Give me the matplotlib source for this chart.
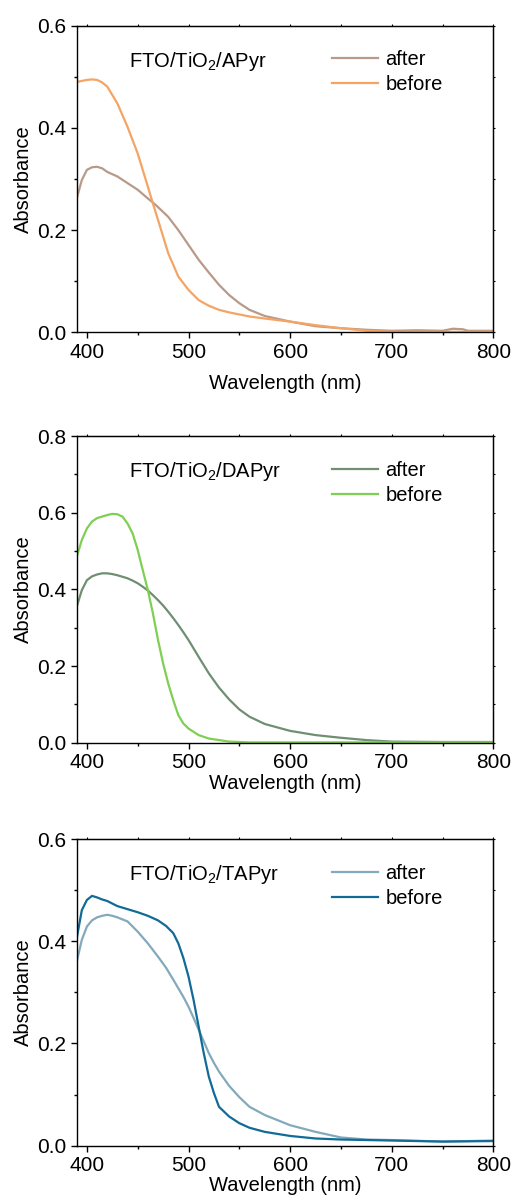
import numpy as np
import matplotlib
matplotlib.use("Agg")
from matplotlib import pyplot as plt

plt.rcParams['font.family'] = ['Liberation Sans', 'DejaVu Sans']
plt.rcParams['mathtext.fontset'] = 'custom'
plt.rcParams['mathtext.rm'] = 'Liberation Sans'
plt.rcParams['mathtext.it'] = 'Liberation Sans:italic'

# panel 1: APyr
wl_apyr = [390, 395, 400, 405, 410, 415, 420, 430, 440, 450, 460, 465, 470, 480, 490, 500,
           510, 520, 530, 540, 550, 560, 575, 600, 625, 650, 675, 700, 725, 750, 760, 770, 775, 800]
apyr_before = [.490, .492, .494, .495, .494, .489, .481, .448, .402, .350, .285, .252, .220, .155, .109, .083,
               .063, .052, .044, .039, .035, .031, .027, .021, .014, .008, .003, .001, .001, .001, .001, .001, .001, .001]
apyr_after = [.262, .298, .318, .323, .324, .321, .314, .305, .292, .279, .262, .254, .245, .226, .200, .171,
              .142, .117, .093, .073, .057, .044, .032, .021, .012, .008, .005, .003, .004, .003, .007, .006, .003, .003]

# panel 2: DAPyr
wl_dapyr = [390, 395, 400, 405, 410, 415, 420, 425, 430, 435, 440, 445, 450, 455, 460, 465, 470, 475, 480,
            485, 490, 495, 500, 510, 520, 530, 540, 550, 560, 575, 600, 625, 650, 675, 700, 750, 800]
dapyr_before = [.485, .529, .559, .577, .586, .590, .594, .597, .596, .590, .572, .546, .503, .450, .398, .337,
                .268, .207, .155, .111, .072, .050, .037, .020, .011, .007, .003, .002, .001, .001, .001, .001,
                .001, .001, .001, .001, .001]
dapyr_after = [.355, .398, .424, .434, .439, .442, .442, .440, .437, .433, .429, .423, .416, .407, .397, .385,
               .372, .358, .342, .325, .307, .288, .268, .224, .181, .144, .113, .087, .068, .049, .031, .020,
               .013, .007, .003, .002, .002]

# panel 3: TAPyr
wl_tapyr = [390, 395, 400, 405, 410, 415, 420, 425, 430, 440, 450, 460, 470, 478, 485, 490, 495, 500, 505,
            510, 515, 520, 525, 530, 540, 550, 560, 575, 600, 625, 650, 675, 700, 750, 800]
tapyr_before = [.406, .461, .481, .489, .486, .482, .479, .474, .469, .463, .457, .450, .441, .430, .416, .396,
                .367, .331, .285, .233, .181, .135, .103, .076, .057, .044, .035, .027, .019, .014, .012, .011,
                .010, .008, .009]
tapyr_after = [.360, .403, .429, .441, .447, .450, .452, .450, .447, .439, .419, .396, .370, .348, .325, .308,
               .291, .272, .250, .227, .204, .181, .162, .145, .117, .095, .076, .060, .040, .027, .016, .012,
               .011, .008, .010]

panels = [
    ("FTO/TiO$_2$/APyr", wl_apyr, apyr_after, apyr_before, "#b89a89", "#f5a463", 0.6),
    ("FTO/TiO$_2$/DAPyr", wl_dapyr, dapyr_after, dapyr_before, "#6f8f72", "#7fcf52", 0.8),
    ("FTO/TiO$_2$/TAPyr", wl_tapyr, tapyr_after, tapyr_before, "#82a9bc", "#116b96", 0.6),
]
# axes boxes in figure fractions
boxes = [(0.149, 0.7226, 0.809, 0.2559),
         (0.149, 0.3800, 0.809, 0.2560),
         (0.149, 0.0437, 0.809, 0.2558)]
xlabel_pads = [9, 1, 1]

fig = plt.figure(figsize=(5.15, 11.98), dpi=100)

for (title, wl, after, before, c_after, c_before, ymax), box, lp in zip(panels, boxes, xlabel_pads):
    ax = fig.add_axes(box)
    ax.plot(wl, after, color=c_after, lw=1.6, label='after')
    ax.plot(wl, before, color=c_before, lw=1.6, label='before')
    ax.set_xlim(390, 800)
    ax.set_ylim(0, ymax)
    ax.set_xticks(np.arange(400, 801, 100))
    ax.set_xticks(np.arange(450, 800, 100), minor=True)
    ax.set_yticks(np.arange(0, ymax + 0.001, 0.2))
    ax.set_yticks(np.arange(0.1, ymax, 0.2), minor=True)
    ax.yaxis.set_major_formatter(matplotlib.ticker.FormatStrFormatter('%.1f'))
    ax.tick_params(which='major', direction='out', length=4, width=1, labelsize=15)
    ax.tick_params(which='minor', direction='out', length=2.5, width=1)
    # tiny marks on the top and right frame
    sec_x = ax.secondary_xaxis('top')
    sec_x.set_xticks(np.arange(400, 801, 50))
    sec_x.tick_params(direction='out', length=1.2, width=0.8, labeltop=False)
    sec_y = ax.secondary_yaxis('right')
    sec_y.set_yticks(np.arange(0, ymax + 0.001, 0.1))
    sec_y.tick_params(direction='out', length=1.2, width=0.8, labelright=False)
    for s in ax.spines.values():
        s.set_linewidth(1)
    ax.set_xlabel('Wavelength (nm)', fontsize=14.5, labelpad=lp)
    ax.set_ylabel('Absorbance', fontsize=14.5, labelpad=3)
    ax.text(0.1255, 0.885, title, transform=ax.transAxes, fontsize=14.5, va='center', ha='left')
    ax.legend(loc='upper left', bbox_to_anchor=(0.613, 0.92), frameon=False, fontsize=14.5,
              handlelength=2.3, handletextpad=0.35, borderpad=0, borderaxespad=0, labelspacing=0.3)

fig.savefig('out.png', dpi=100)
